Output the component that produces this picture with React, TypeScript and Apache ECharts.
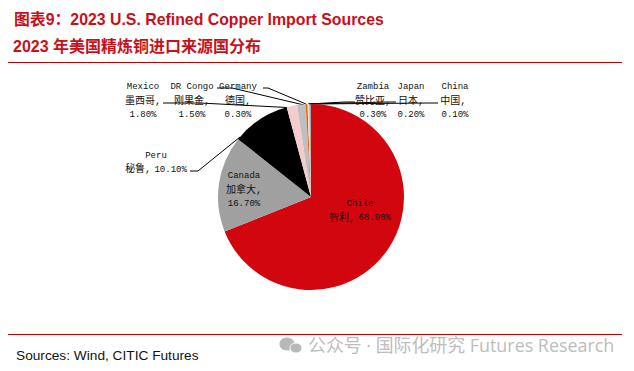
import React, { useEffect, useRef } from "react";
import * as echarts from "echarts";

const namesEn = ["Chile", "Canada", "Peru", "Mexico", "DR Congo", "Germany", "Zambia", "Japan", "China"];
const namesZh = ["智利", "加拿大", "秘鲁", "墨西哥", "刚果金", "德国", "赞比亚", "日本", "中国"];
const shares = [68.9, 16.7, 10.1, 1.8, 1.5, 0.3, 0.3, 0.2, 0.1];
const sliceColors = ["#D2060F", "#A0A0A0", "#000000", "#F4CCCE", "#BFBFBF", "#E8590C", "#F6E3D0", "#A6A6A6", "#7F7F7F"];
const labelSeparators = [" ", "\n", " ", "\n", "\n", "\n", "\n", "\n", " \n"];
const labelCenters = [[360, 211], [244, 190], [156, 162.5], [143, 101], [192, 101], [238, 101], [373, 101], [411, 101], [455, 101]];
const leaderPaths = [
  null,
  null,
  [[190, 171], [198, 171], [240, 137]],
  [[163, 103], [200, 103], [297, 108]],
  [[217, 88], [232, 88], [304, 105]],
  [[263, 88], [268, 88], [306, 104]],
  [[355, 102], [345, 102], [308, 104]],
  [[396, 102], [386, 102], [309, 104]],
  [[438, 103], [428, 103], [310, 104]],
];

const monoFont = '"Liberation Mono", "Noto Sans CJK SC", monospace';
const sansFont = '"Liberation Sans", "Noto Sans CJK SC", sans-serif';
const titleRed = "#C8101A";

export default function App() {
  const ref = useRef<HTMLDivElement>(null);
  useEffect(() => {
    document.body.style.margin = "0";
    const chart = echarts.init(ref.current!, null, { renderer: "svg" });
    chart.setOption({
      animation: false,
      backgroundColor: "#ffffff",
      series: [
        {
          type: "pie",
          center: [311, 197],
          radius: [0, 93],
          startAngle: 90,
          clockwise: true,
          silent: true,
          avoidLabelOverlap: false,
          data: shares.map((value, i) => ({
            value,
            name: namesEn[i],
            itemStyle: { color: sliceColors[i] },
            label: {
              formatter: `{a|${namesEn[i]}}\n{z|${namesZh[i]},}${labelSeparators[i]}{a|${value.toFixed(2)}%}`,
            },
            labelLine: { show: !!leaderPaths[i] },
          })),
          label: {
            show: true,
            position: "outside",
            color: "#111111",
            align: "center",
            rich: {
              a: { fontFamily: monoFont, fontSize: 9, lineHeight: 14, color: "#111111" },
              z: { fontFamily: monoFont, fontSize: 10, lineHeight: 14, color: "#111111" },
            },
          },
          labelLine: { show: true, lineStyle: { color: "#000000", width: 1 } },
          labelLayout: (p: any) => {
            const [x, y] = labelCenters[p.dataIndex];
            const path = leaderPaths[p.dataIndex];
            return {
              x,
              y,
              align: "center",
              verticalAlign: "middle",
              ...(path ? { labelLinePoints: path } : {}),
            };
          },
        },
      ],
      graphic: [
        { type: "text", x: 14, y: 12, style: { text: "图表9：2023 U.S. Refined Copper Import Sources", fill: titleRed, font: `bold 15.85px ${sansFont}` } },
        { type: "text", x: 13, y: 38, style: { text: "2023 年美国精炼铜进口来源国分布", fill: titleRed, font: `bold 16px ${sansFont}` } },
        { type: "rect", shape: { x: 8, y: 62, width: 614, height: 1 }, style: { fill: "#C00000" } },
        { type: "rect", shape: { x: 8, y: 334, width: 614, height: 1 }, style: { fill: "#C00000" } },
        { type: "text", x: 16, y: 349, style: { text: "Sources: Wind, CITIC Futures", fill: "#111111", font: `13.7px ${sansFont}` } },
        { type: "ellipse", shape: { cx: 287, cy: 344, rx: 7.5, ry: 6.5 }, style: { fill: "#B8B8B8" } },
        { type: "ellipse", shape: { cx: 296, cy: 348, rx: 6, ry: 5 }, style: { fill: "#B8B8B8", stroke: "#ffffff", lineWidth: 1 } },
        { type: "text", x: 308, y: 336, style: { text: "公众号 · 国际化研究 Futures Research", fill: "#BDBDBD", font: `17.9px "Open Sans", "Noto Sans CJK SC", sans-serif` } },
      ],
    });
    return () => chart.dispose();
  }, []);
  return <div ref={ref} style={{ width: 634, height: 371 }} />;
}
